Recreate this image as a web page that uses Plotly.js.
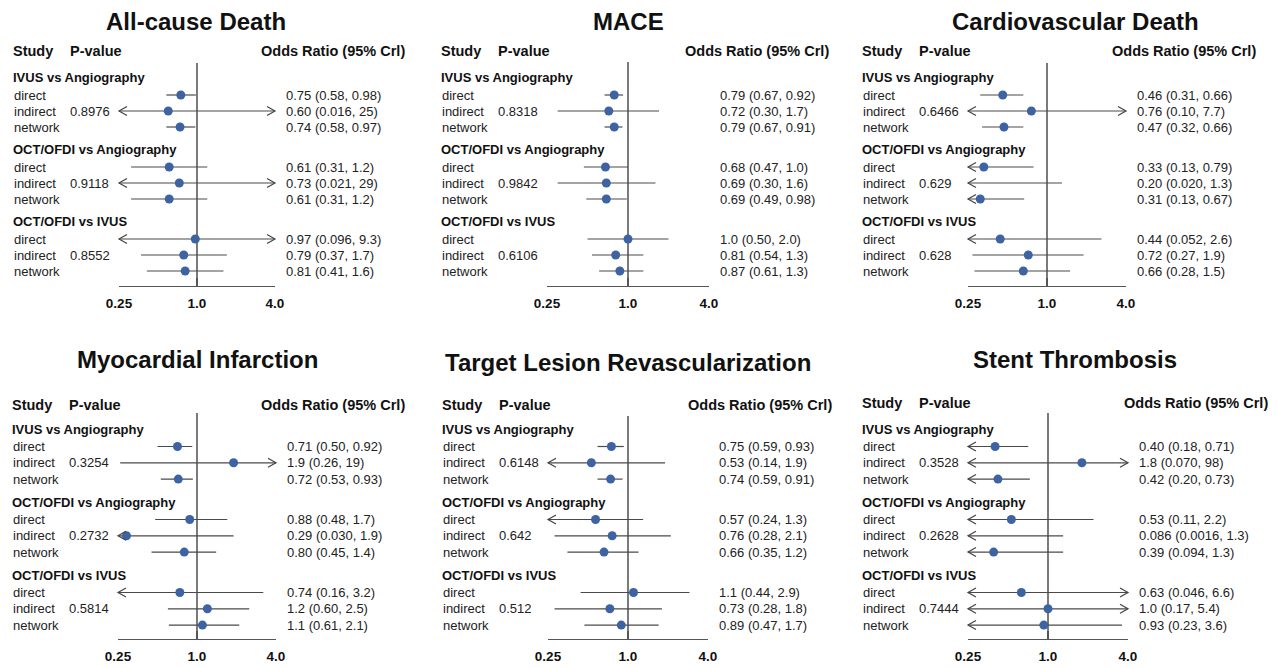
<!DOCTYPE html>
<html>
<head>
<meta charset="utf-8">
<script src="https://cdn.plot.ly/plotly-3.0.1.min.js"></script>
<style>html,body{margin:0;padding:0;background:#fff;}#chart{width:1278px;height:668px;}</style>
</head>
<body>
<div id="chart"></div>
<script>
// ---------- data ----------
const panelTitles = ['All-cause Death', 'MACE', 'Cardiovascular Death',
  'Myocardial Infarction', 'Target Lesion Revascularization', 'Stent Thrombosis'];
const groupLabels = ['IVUS vs Angiography', 'OCT/OFDI vs Angiography', 'OCT/OFDI vs IVUS'];
const rowLabels = ['direct', 'indirect', 'network'];
const tickValues = [0.25, 1, 4];
const tickLabels = ['0.25', '1.0', '4.0'];

// order in each array: group1 direct, indirect, network, group2 ..., group3 ...
const allCauseOR = [0.75, 0.60, 0.74, 0.61, 0.73, 0.61, 0.97, 0.79, 0.81];
const allCauseLo = [0.58, 0.016, 0.58, 0.31, 0.021, 0.31, 0.096, 0.37, 0.41];
const allCauseHi = [0.98, 25, 0.97, 1.2, 29, 1.2, 9.3, 1.7, 1.6];
const allCauseP = [0.8976, 0.9118, 0.8552];

const maceOR = [0.79, 0.72, 0.79, 0.68, 0.69, 0.69, 1.0, 0.81, 0.87];
const maceLo = [0.67, 0.30, 0.67, 0.47, 0.30, 0.49, 0.50, 0.54, 0.61];
const maceHi = [0.92, 1.7, 0.91, 1.0, 1.6, 0.98, 2.0, 1.3, 1.3];
const maceP = [0.8318, 0.9842, 0.6106];

const cvDeathOR = [0.46, 0.76, 0.47, 0.33, 0.20, 0.31, 0.44, 0.72, 0.66];
const cvDeathLo = [0.31, 0.10, 0.32, 0.13, 0.020, 0.13, 0.052, 0.27, 0.28];
const cvDeathHi = [0.66, 7.7, 0.66, 0.79, 1.3, 0.67, 2.6, 1.9, 1.5];
const cvDeathP = [0.6466, 0.629, 0.628];

const miOR = [0.71, 1.9, 0.72, 0.88, 0.29, 0.80, 0.74, 1.2, 1.1];
const miLo = [0.50, 0.26, 0.53, 0.48, 0.030, 0.45, 0.16, 0.60, 0.61];
const miHi = [0.92, 19, 0.93, 1.7, 1.9, 1.4, 3.2, 2.5, 2.1];
const miP = [0.3254, 0.2732, 0.5814];

const tlrOR = [0.75, 0.53, 0.74, 0.57, 0.76, 0.66, 1.1, 0.73, 0.89];
const tlrLo = [0.59, 0.14, 0.59, 0.24, 0.28, 0.35, 0.44, 0.28, 0.47];
const tlrHi = [0.93, 1.9, 0.91, 1.3, 2.1, 1.2, 2.9, 1.8, 1.7];
const tlrP = [0.6148, 0.642, 0.512];

const stOR = [0.40, 1.8, 0.42, 0.53, 0.086, 0.39, 0.63, 1.0, 0.93];
const stLo = [0.18, 0.070, 0.20, 0.11, 0.0016, 0.094, 0.046, 0.17, 0.23];
const stHi = [0.71, 98, 0.73, 2.2, 1.3, 1.3, 6.6, 5.4, 3.6];
const stP = [0.3528, 0.2628, 0.7444];

const panelData = [
  [allCauseOR, allCauseLo, allCauseHi, allCauseP],
  [maceOR, maceLo, maceHi, maceP],
  [cvDeathOR, cvDeathLo, cvDeathHi, cvDeathP],
  [miOR, miLo, miHi, miP],
  [tlrOR, tlrLo, tlrHi, tlrP],
  [stOR, stLo, stHi, stP]
];

// ---------- layout geometry (pixels) ----------
const W = 1278, H = 668;
const FONT = 'Liberation Sans, Arial, Helvetica, sans-serif';
const geom = [
  {L:119, R:275, top:63, bot:286, ref:63, tx:196, ty:21, hy:51, orh:-15},
  {L:547, R:709, top:62, bot:286, ref:63, tx:628, ty:21, hy:51, orh:-25},
  {L:968, R:1126, top:63, bot:286, ref:63, tx:1075, ty:21, hy:51, orh:-15},
  {L:118, R:276, top:413, bot:639, ref:413, tx:197, ty:359, hy:405, orh:-16},
  {L:548, R:708, top:416, bot:639, ref:413, tx:628, ty:362, hy:405, orh:-21},
  {L:968, R:1128, top:413, bot:639, ref:413, tx:1075, ty:359, hy:403, orh:-5}
];
const rowGeom = [
  {h0:14, gStep:72, first:18, rStep:16},
  {h0:16, gStep:73, first:17.5, rStep:16.3}
];

const fmt = v => v.toPrecision(2);

const traces = [];
const annotations = [];
const shapes = [];
const layout = {
  width: W, height: H,
  margin: {l:0, r:0, t:0, b:0},
  paper_bgcolor: '#ffffff', plot_bgcolor: 'rgba(0,0,0,0)',
  showlegend: false,
  font: {family: FONT, color: '#111'}
};

panelData.forEach((pd, n) => {
  const [orv, lo, hi, pv] = pd;
  const g = geom[n];
  const rg = rowGeom[n < 3 ? 0 : 1];
  const s = n === 0 ? '' : String(n + 1);
  const xa = 'x' + s, ya = 'y' + s;

  layout['xaxis' + s] = {
    type: 'log', range: [Math.log10(0.25), Math.log10(4)],
    domain: [g.L / W, g.R / W], anchor: ya,
    showline: true, linecolor: '#555', linewidth: 1.3,
    ticks: 'inside', ticklen: 8, tickwidth: 1.3, tickcolor: '#555',
    tickmode: 'array', tickvals: tickValues, ticktext: tickLabels,
    ticklabelstandoff: 4,
    tickfont: {family: FONT, size: 13.5, weight: 'bold', color: '#111'},
    showgrid: false, zeroline: false, fixedrange: true
  };
  layout['yaxis' + s] = {
    domain: [1 - g.bot / H, 1 - g.top / H], anchor: xa,
    range: [g.bot - g.ref, g.top - g.ref],
    visible: false, showgrid: false, zeroline: false, fixedrange: true
  };

  // row positions
  const yRow = [], xs = [], ys = [];
  for (let gi = 0; gi < 3; gi++) {
    const hy = rg.h0 + gi * rg.gStep;
    annotations.push({xref: xa + ' domain', yref: ya, x: 0, xshift: -107, y: hy,
      xanchor: 'left', yanchor: 'middle', showarrow: false, borderpad: 0,
      text: groupLabels[gi], font: {family: FONT, size: 13, weight: 'bold', color: '#111'}});
    for (let r = 0; r < 3; r++) {
      const i = gi * 3 + r;
      const y = hy + rg.first + r * rg.rStep;
      yRow.push(y);
      xs.push(lo[i], hi[i], null);
      ys.push(y, y, null);
      annotations.push({xref: xa + ' domain', yref: ya, x: 0, xshift: -106, y: y,
        xanchor: 'left', yanchor: 'middle', showarrow: false, borderpad: 0,
        text: rowLabels[r], font: {family: FONT, size: 13, color: '#222'}});
      if (r === 1) {
        annotations.push({xref: xa + ' domain', yref: ya, x: 0, xshift: -50, y: y,
          xanchor: 'left', yanchor: 'middle', showarrow: false, borderpad: 0,
          text: String(pv[gi]), font: {family: FONT, size: 13, color: '#222'}});
      }
      annotations.push({xref: xa + ' domain', yref: ya, x: 1, xshift: 10, y: y,
        xanchor: 'left', yanchor: 'middle', showarrow: false, borderpad: 0,
        text: fmt(orv[i]) + ' (' + fmt(lo[i]) + ', ' + fmt(hi[i]) + ')',
        font: {family: FONT, size: 13, color: '#222'}});
      if (lo[i] < 0.25) {
        shapes.push({type: 'path', xref: xa + ' domain', yref: ya,
          xsizemode: 'pixel', ysizemode: 'pixel', xanchor: 0, yanchor: y,
          path: 'M 8 4.5 L 0 0 L 8 -4.5', line: {color: '#444', width: 1.2}});
      }
      if (hi[i] > 4) {
        shapes.push({type: 'path', xref: xa + ' domain', yref: ya,
          xsizemode: 'pixel', ysizemode: 'pixel', xanchor: 1, yanchor: y,
          path: 'M -8 4.5 L 0 0 L -8 -4.5', line: {color: '#444', width: 1.2}});
      }
    }
  }

  // reference line at OR = 1
  shapes.push({type: 'line', xref: xa, yref: ya + ' domain', x0: 1, x1: 1, y0: 0, y1: 1,
    layer: 'below', line: {color: '#222', width: 1.2}});

  traces.push({type: 'scatter', mode: 'lines', x: xs, y: ys, xaxis: xa, yaxis: ya,
    connectgaps: false, line: {color: '#4a4a4a', width: 1.2}, hoverinfo: 'skip'});
  traces.push({type: 'scatter', mode: 'markers', x: orv, y: yRow, xaxis: xa, yaxis: ya,
    marker: {color: '#3d63a2', size: 9}, cliponaxis: true, hoverinfo: 'skip'});

  // titles and column headers
  annotations.push({xref: 'paper', yref: 'paper', x: g.tx / W, y: 1 - g.ty / H,
    xanchor: 'center', yanchor: 'middle', showarrow: false,
    text: panelTitles[n], font: {family: FONT, size: 24, weight: 'bold', color: '#111'}});
  const hf = {family: FONT, size: 14.5, weight: 'bold', color: '#111'};
  annotations.push({xref: xa + ' domain', yref: 'paper', x: 0, xshift: -107, y: 1 - g.hy / H,
    xanchor: 'left', yanchor: 'middle', showarrow: false, borderpad: 0, text: 'Study', font: hf});
  annotations.push({xref: xa + ' domain', yref: 'paper', x: 0, xshift: -50, y: 1 - g.hy / H,
    xanchor: 'left', yanchor: 'middle', showarrow: false, borderpad: 0, text: 'P-value', font: hf});
  annotations.push({xref: xa + ' domain', yref: 'paper', x: 1, xshift: g.orh, y: 1 - g.hy / H,
    xanchor: 'left', yanchor: 'middle', showarrow: false, borderpad: 0,
    text: 'Odds Ratio (95% Crl)', font: hf});
});

layout.annotations = annotations;
layout.shapes = shapes;

Plotly.newPlot('chart', traces, layout, {staticPlot: true, displayModeBar: false});
</script>
</body>
</html>
